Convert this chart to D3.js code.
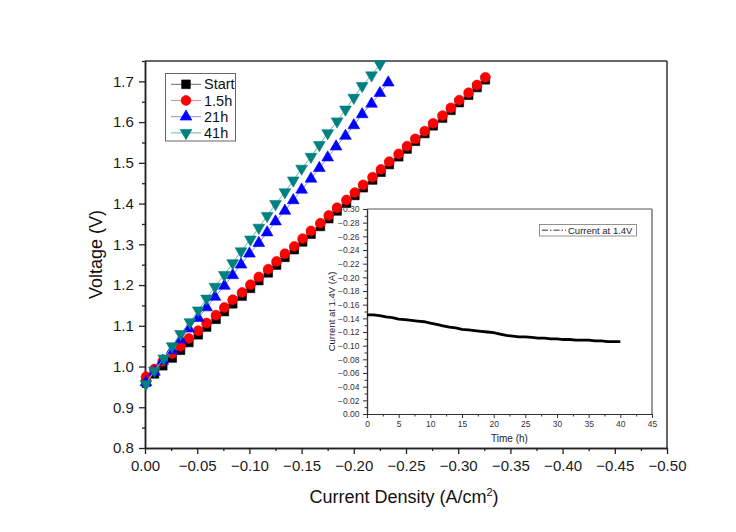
<!DOCTYPE html>
<html><head><meta charset="utf-8">
<script src="https://cdn.jsdelivr.net/npm/d3@7"></script>
<style>
html,body{margin:0;padding:0;background:#fff;}
svg{display:block;font-family:"Liberation Sans",Arial,sans-serif;}
</style></head>
<body><svg id="c" width="736" height="532"></svg>
<script>
// ---------- data ----------
const seriesNames = ["Start", "1.5h", "21h", "41h"];
const seriesColors = ["#000000", "#ff0000", "#0000ff", "#008080"];
const lineColors = ["#6a6a6a", "#f08a8a", "#8a8aff", "#6ab8b0"];

const currentStart = [-0.001,-0.009,-0.017,-0.026,-0.034,-0.042,-0.051,-0.059,-0.068,-0.076,-0.084,-0.093,-0.101,-0.109,-0.118,-0.126,-0.134,-0.143,-0.151,-0.159,-0.168,-0.176,-0.184,-0.193,-0.201,-0.209,-0.218,-0.226,-0.234,-0.243,-0.251,-0.259,-0.268,-0.276,-0.285,-0.293,-0.301,-0.310,-0.318,-0.326];
const voltageStart = [0.962,0.982,1.002,1.021,1.040,1.059,1.078,1.097,1.116,1.135,1.154,1.173,1.192,1.211,1.230,1.249,1.268,1.287,1.306,1.325,1.344,1.363,1.382,1.401,1.420,1.439,1.458,1.477,1.496,1.515,1.534,1.553,1.572,1.591,1.610,1.629,1.648,1.666,1.685,1.704];

const current15h = [-0.001,-0.009,-0.017,-0.026,-0.034,-0.042,-0.051,-0.059,-0.068,-0.076,-0.084,-0.093,-0.101,-0.109,-0.118,-0.126,-0.134,-0.143,-0.151,-0.159,-0.168,-0.176,-0.184,-0.193,-0.201,-0.209,-0.218,-0.226,-0.234,-0.243,-0.251,-0.259,-0.268,-0.276,-0.285,-0.293,-0.301,-0.310,-0.318,-0.326];
const voltage15h = [0.975,0.994,1.013,1.032,1.050,1.069,1.088,1.107,1.126,1.145,1.164,1.182,1.201,1.220,1.239,1.258,1.277,1.295,1.314,1.333,1.352,1.371,1.390,1.409,1.427,1.446,1.465,1.484,1.503,1.522,1.541,1.559,1.578,1.597,1.616,1.635,1.654,1.672,1.691,1.710];

const current21h = [-0.001,-0.009,-0.017,-0.026,-0.034,-0.042,-0.051,-0.059,-0.067,-0.076,-0.084,-0.092,-0.100,-0.109,-0.117,-0.125,-0.134,-0.142,-0.150,-0.159,-0.167,-0.175,-0.183,-0.192,-0.200,-0.208,-0.217,-0.225,-0.233];
const voltage21h = [0.961,0.987,1.014,1.040,1.066,1.093,1.119,1.145,1.171,1.198,1.224,1.250,1.277,1.303,1.329,1.356,1.382,1.408,1.434,1.461,1.487,1.513,1.540,1.566,1.592,1.619,1.645,1.671,1.697];

const current41h = [-0.001,-0.009,-0.018,-0.026,-0.034,-0.043,-0.051,-0.059,-0.067,-0.076,-0.084,-0.092,-0.101,-0.109,-0.117,-0.125,-0.134,-0.142,-0.150,-0.159,-0.167,-0.175,-0.184,-0.192,-0.200,-0.208,-0.217,-0.225];
const voltage41h = [0.957,0.990,1.020,1.050,1.080,1.109,1.138,1.167,1.196,1.225,1.254,1.283,1.312,1.341,1.370,1.399,1.428,1.457,1.486,1.515,1.544,1.573,1.602,1.631,1.660,1.689,1.715,1.742];

const insetTime = [0,1,2,3,4,5,6,7,8,9,10,11,12,13,14,15,16,17,18,19,20,21,22,23,24,25,26,27,28,29,30,31,32,33,34,35,36,37,38,39,40];
const insetCurrent = [-0.145,-0.145,-0.144,-0.142,-0.141,-0.139,-0.138,-0.137,-0.136,-0.135,-0.133,-0.131,-0.129,-0.127,-0.126,-0.124,-0.123,-0.122,-0.121,-0.120,-0.119,-0.117,-0.115,-0.114,-0.113,-0.113,-0.112,-0.111,-0.111,-0.110,-0.110,-0.109,-0.109,-0.108,-0.108,-0.108,-0.107,-0.107,-0.106,-0.106,-0.106];

const xTicks = [0,-0.05,-0.10,-0.15,-0.20,-0.25,-0.30,-0.35,-0.40,-0.45,-0.50];
const yTicks = [0.8,0.9,1.0,1.1,1.2,1.3,1.4,1.5,1.6,1.7];
const insetXTicks = [0,5,10,15,20,25,30,35,40,45];
const insetYTicks = [0,-0.02,-0.04,-0.06,-0.08,-0.10,-0.12,-0.14,-0.16,-0.18,-0.20,-0.22,-0.24,-0.26,-0.28,-0.30];

const allX = [currentStart, current15h, current21h, current41h];
const allY = [voltageStart, voltage15h, voltage21h, voltage41h];

// ---------- main chart ----------
const svg = d3.select("#c");
const L = 145, R = 667, T = 61, B = 448;
const x = d3.scaleLinear().domain([0, -0.5]).range([L, R]);
const y = d3.scaleLinear().domain([0.8, 1.75]).range([B, T]);
const axisCol = "#222";

// frame
svg.append("line").attr("x1", L).attr("x2", R).attr("y1", T).attr("y2", T).attr("stroke", "#333").attr("stroke-width", 1.5);
svg.append("line").attr("x1", R).attr("x2", R).attr("y1", T).attr("y2", B).attr("stroke", "#333").attr("stroke-width", 1.5);

const xAxis = svg.append("g").attr("transform", `translate(0,${B})`)
  .call(d3.axisBottom(x).tickValues(xTicks).tickFormat(d3.format(".2f")).tickSize(6).tickSizeOuter(0));
const xMinor = svg.append("g").attr("transform", `translate(0,${B})`)
  .call(d3.axisBottom(x).tickValues(xTicks.slice(0, -1).map(v => v - 0.025)).tickFormat("").tickSize(3).tickSizeOuter(0));
const yAxis = svg.append("g").attr("transform", `translate(${L},0)`)
  .call(d3.axisLeft(y).tickValues(yTicks).tickFormat(d3.format(".1f")).tickSize(6).tickSizeOuter(0));
const yMinor = svg.append("g").attr("transform", `translate(${L},0)`)
  .call(d3.axisLeft(y).tickValues(yTicks.map(v => v + 0.05)).tickFormat("").tickSize(3).tickSizeOuter(0));
[xAxis, xMinor, yAxis, yMinor].forEach(g => {
  g.select(".domain").attr("stroke", axisCol).attr("stroke-width", 1.5);
  g.selectAll(".tick line").attr("stroke", axisCol).attr("stroke-width", 1.3);
  g.selectAll("text").attr("font-size", 15).attr("fill", "#1a1a1a").attr("font-family", "Liberation Sans, Arial, sans-serif");
});
xAxis.selectAll("text").attr("dy", "0.9em");
yAxis.selectAll("text").attr("dx", "-0.15em");

svg.append("text").attr("x", (L + R) / 2 - 2).attr("y", 503).attr("text-anchor", "middle")
  .attr("font-size", 18).attr("fill", "#111")
  .html('Current Density (A/cm<tspan dy="-7" font-size="11">2</tspan><tspan dy="7">)</tspan>');
svg.append("text").attr("transform", `translate(102,${(T + B) / 2}) rotate(-90)`).attr("text-anchor", "middle")
  .attr("font-size", 18).attr("fill", "#111").text("Voltage (V)");

// symbols
const symbols = [
  d3.symbol().type(d3.symbolSquare).size(76),
  d3.symbol().type(d3.symbolCircle).size(76),
  d3.symbol().type(d3.symbolTriangle).size(60),
  d3.symbol().type(d3.symbolTriangle).size(60)
];
const rotations = [0, 0, 0, 180];

const lineGen = d3.line().x(d => x(d[0])).y(d => y(d[1]));
allX.forEach((xs, i) => {
  const pts = xs.map((v, k) => [v, allY[i][k]]);
  svg.append("path").datum(pts).attr("d", lineGen).attr("fill", "none")
    .attr("stroke", lineColors[i]).attr("stroke-width", 1);
  svg.append("g").selectAll("path").data(pts).join("path")
    .attr("d", symbols[i])
    .attr("transform", d => `translate(${x(d[0])},${y(d[1])}) rotate(${rotations[i]})`)
    .attr("fill", seriesColors[i]).attr("stroke", seriesColors[i]).attr("stroke-width", 0.6);
});

// legend
const lg = svg.append("g");
lg.append("rect").attr("x", 165.5).attr("y", 73.5).attr("width", 70).attr("height", 67.5)
  .attr("fill", "#fff").attr("stroke", "#666").attr("stroke-width", 1);
seriesNames.forEach((n, i) => {
  const yy = 84.3 + i * 16.2;
  lg.append("line").attr("x1", 171).attr("x2", 201).attr("y1", yy).attr("y2", yy).attr("stroke", lineColors[i]).attr("stroke-width", 1);
  lg.append("path").attr("d", symbols[i]).attr("transform", `translate(186,${yy}) rotate(${rotations[i]})`)
    .attr("fill", seriesColors[i]).attr("stroke", seriesColors[i]).attr("stroke-width", 0.6);
  lg.append("text").attr("x", 204).attr("y", yy + 5).attr("font-size", 14.5).attr("fill", "#111").text(n);
});

// ---------- inset ----------
const iL = 367, iR = 652, iT = 209, iB = 414;
const ix = d3.scaleLinear().domain([0, 45]).range([iL, iR]);
const iy = d3.scaleLinear().domain([0, -0.30]).range([iB, iT]);
const ins = svg.append("g");
ins.append("rect").attr("x", iL).attr("y", iT).attr("width", iR - iL).attr("height", iB - iT).attr("fill", "#fff");
ins.append("line").attr("x1", iL).attr("x2", iR).attr("y1", iT).attr("y2", iT).attr("stroke", "#555").attr("stroke-width", 1.2);
ins.append("line").attr("x1", iR).attr("x2", iR).attr("y1", iT).attr("y2", iB).attr("stroke", "#555").attr("stroke-width", 1.2);

const ixA = ins.append("g").attr("transform", `translate(0,${iB})`)
  .call(d3.axisBottom(ix).tickValues(insetXTicks).tickFormat(d3.format("d")).tickSize(4).tickSizeOuter(0));
const ixM = ins.append("g").attr("transform", `translate(0,${iB})`)
  .call(d3.axisBottom(ix).tickValues(insetXTicks.slice(0, -1).map(v => v + 2.5)).tickFormat("").tickSize(2.5).tickSizeOuter(0));
const iyA = ins.append("g").attr("transform", `translate(${iL},0)`)
  .call(d3.axisLeft(iy).tickValues(insetYTicks).tickFormat(d3.format(".2f")).tickSize(4).tickSizeOuter(0));
const iyM = ins.append("g").attr("transform", `translate(${iL},0)`)
  .call(d3.axisLeft(iy).tickValues(insetYTicks.slice(0, -1).map(v => v - 0.01)).tickFormat("").tickSize(2.5).tickSizeOuter(0));
[ixA, ixM, iyA, iyM].forEach(g => {
  g.select(".domain").attr("stroke", "#333").attr("stroke-width", 1.2);
  g.selectAll(".tick line").attr("stroke", "#333").attr("stroke-width", 1);
  g.selectAll("text").attr("font-size", 8.5).attr("fill", "#333").attr("font-family", "Liberation Sans, Arial, sans-serif");
});
ixA.selectAll("text").attr("dy", "0.75em");
iyA.selectAll("text").attr("dx", "-0.05em");

ins.append("text").attr("x", (iL + iR) / 2).attr("y", 442).attr("text-anchor", "middle")
  .attr("font-size", 10).attr("fill", "#222").text("Time (h)");
ins.append("text").attr("transform", `translate(335,${(iT + iB) / 2}) rotate(-90)`).attr("text-anchor", "middle")
  .attr("font-size", 9.5).attr("fill", "#222").text("Current at 1.4V (A)");

const iline = d3.line().x(d => ix(d[0])).y(d => iy(d[1]));
ins.append("path").datum(insetTime.map((t, k) => [t, insetCurrent[k]])).attr("d", iline)
  .attr("fill", "none").attr("stroke", "#000").attr("stroke-width", 2.8);

// inset legend
ins.append("rect").attr("x", 539.5).attr("y", 224.5).attr("width", 97).attr("height", 11.5)
  .attr("fill", "#fff").attr("stroke", "#777").attr("stroke-width", 0.8);
ins.append("line").attr("x1", 542).attr("x2", 566).attr("y1", 230.2).attr("y2", 230.2)
  .attr("stroke", "#333").attr("stroke-width", 1).attr("stroke-dasharray", "6,2,1.5,2");
ins.append("text").attr("x", 568).attr("y", 233.7).attr("font-size", 9.5).attr("fill", "#222").text("Current at 1.4V");
</script></body></html>
